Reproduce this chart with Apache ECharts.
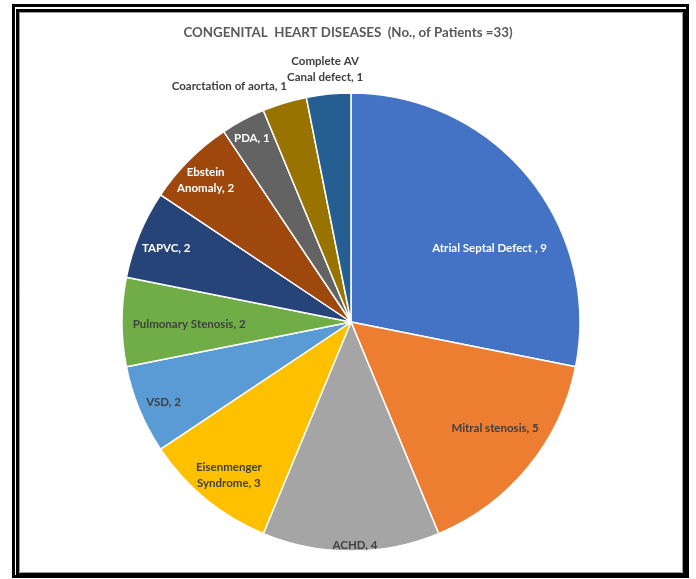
<!DOCTYPE html>
<html><head><meta charset="utf-8">
<script src="https://cdn.jsdelivr.net/npm/echarts@6/dist/echarts.min.js"></script>
<style>html,body{margin:0;padding:0;background:#fff}#c{width:696px;height:579px}</style>
</head><body><div id="c"></div>
<script>
// ---- data ----
const titleText = 'CONGENITAL  HEART DISEASES  (No., of Patients =33)';
const categories = ['Atrial Septal Defect ', 'Mitral stenosis', 'ACHD', 'Eisenmenger Syndrome', 'VSD',
  'Pulmonary Stenosis', 'TAPVC', 'Ebstein Anomaly', 'PDA', 'Coarctation of aorta', 'Complete AV Canal defect'];
const patients = [9, 5, 4, 3, 2, 2, 2, 2, 1, 1, 1];

// ---- styles ----
const sliceColors = ['#4472C4', '#ED7D31', '#A5A5A5', '#FFC000', '#5B9BD5', '#70AD47',
  '#264478', '#9E480E', '#636363', '#997300', '#255E91'];
const labelColors = ['#ffffff', '#404040', '#404040', '#404040', '#404040', '#404040',
  '#ffffff', '#ffffff', '#ffffff', '#404040', '#404040'];
const wrapNames = { 'Eisenmenger Syndrome': 1, 'Ebstein Anomaly': 1, 'Complete AV Canal defect': 2 };
// label distance from centre as fraction of radius (null = outside label)
const labelRadius = [0.64, 0.75, 0.96, 0.855, 0.92, 0.72, 0.87, 0.86, 0.905, null, 1.095];
// extra nudges of labels (pixels)
const labelNudge = [[23, 21], [9, -5], [4, 0], [4, 0], [10, -1], [6, 2], [2, 4], [-4, 0], [0, 2], [0, 2], [-1, 0]];

const CX = 351, CY = 322, R = 229;
const FONT = 'Lato, "Open Sans", sans-serif';

function fmt(p) {
  let name = p.name;
  const k = wrapNames[name];
  if (k) {
    const parts = name.split(' ');
    name = parts.slice(0, k).join(' ') + '\n' + parts.slice(k).join(' ');
  }
  return name + ', ' + p.value;
}

const series = [{
  type: 'pie', center: [CX, CY], radius: R, startAngle: 90, clockwise: true,
  silent: true, animation: false,
  label: { show: false }, labelLine: { show: false },
  itemStyle: { borderColor: '#ffffff', borderWidth: 1.5 },
  data: patients.map((v, i) => ({ value: v, name: categories[i], itemStyle: { color: sliceColors[i] } }))
}];

labelRadius.forEach((ratio, i) => {
  const baseLabel = {
    show: false, formatter: fmt, color: labelColors[i], fontFamily: FONT,
    fontWeight: 'bold', fontSize: 11.5, lineHeight: 16
  };
  const data = patients.map((v, j) => ({
    value: v, name: categories[j], label: { show: j === i }
  }));
  const common = {
    type: 'pie', center: [CX, CY], startAngle: 90, clockwise: true,
    silent: true, animation: false, avoidLabelOverlap: false,
    itemStyle: { color: 'rgba(0,0,0,0)', borderWidth: 0 },
    labelLayout: { dx: labelNudge[i][0], dy: labelNudge[i][1] },
    data
  };
  if (ratio === null) {
    series.push(Object.assign(common, {
      radius: R,
      label: Object.assign(baseLabel, { position: 'outside', distanceToLabelLine: -8 }),
      labelLine: { show: false, length: 19, length2: 0 }
    }));
  } else {
    const r = ratio * R;
    series.push(Object.assign(common, {
      radius: [r - 1, r + 1],
      label: Object.assign(baseLabel, { position: 'inside' }),
      labelLine: { show: false }
    }));
  }
});

const chart = echarts.init(document.getElementById('c'), null, { renderer: 'canvas' });
chart.setOption({
  backgroundColor: '#ffffff',
  animation: false,
  title: {
    text: titleText, left: 'center', top: 21,
    textStyle: { fontFamily: FONT, fontSize: 13.3, fontWeight: 'bold', color: '#595959' }
  },
  series,
  graphic: [
    { type: 'rect', silent: true, shape: { x: 13.5, y: 5.5, width: 674, height: 571 },
      style: { fill: null, stroke: '#000', lineWidth: 3 } },
    { type: 'rect', silent: true, shape: { x: 17.5, y: 10.5, width: 667, height: 564 },
      style: { fill: null, stroke: '#000', lineWidth: 3 } },
    { type: 'rect', silent: true, shape: { x: 19.5, y: 12.5, width: 663, height: 560 },
      style: { fill: null, stroke: '#9a9a9a', lineWidth: 1 } }
  ]
});
</script>
</body></html>
